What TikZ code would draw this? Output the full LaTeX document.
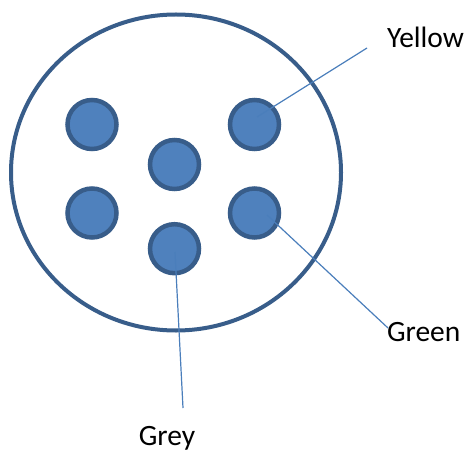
\documentclass[tikz,border=0pt]{standalone}
\usepackage{fontspec}
\setmainfont{Carlito}
\usepackage{xcolor}
\usepackage{tikz}
\usetikzlibrary{shapes.geometric}

\definecolor{dotfill}{HTML}{4F81BD}
\definecolor{dotline}{HTML}{385D8A}
\definecolor{leadline}{HTML}{4A7EBB}

\begin{document}
\begin{tikzpicture}[
        x=1pt, y=-1pt,
        every node/.style={inner sep=0pt, outer sep=0pt},
        rim/.style  ={ellipse, draw=dotline, line width=4pt,
                      minimum width=330pt, minimum height=316pt},
        dot/.style  ={circle, draw=dotline, fill=dotfill, line width=4.5pt,
                      minimum size=49pt},
        lead/.style ={draw=leadline, line width=1.2pt},
        tag/.style  ={font=\fontsize{29.5}{32}\selectfont, text=black},
    ]
        \useasboundingbox (0,0) rectangle (470,454);

        % ===================== Casing =====================
        \node[rim] (rim) at (176,172.5) {};

        % ===================== Six cores =====================
        \node[dot] (c1) at ( 92.0,124.5) {};
        \node[dot] (c2) at (254.5,124.5) {};
        \node[dot] (c3) at (174.5,164.5) {};
        \node[dot] (c4) at ( 92.0,213.0) {};
        \node[dot] (c5) at (254.5,213.0) {};
        \node[dot] (c6) at (174.5,248.7) {};

        % ===================== Labels =====================
        \node[tag, anchor=west] (yl) at (387,37)  {Yellow};
        \node[tag, anchor=west] (gn) at (387,332) {Green};
        \node[tag]              (gy) at (167,438) {Grey};

        % free ends of the leaders
        \coordinate (ye) at (367,48);
        \coordinate (ge) at (388,328);
        \coordinate (re) at (183,408);

        % ===================== Leaders =====================
        \draw[lead] ([shift={(2.5,-7.5)}]c2.center) -- (ye);
        \draw[lead] ([shift={(12.5,2)}]c5.center)   -- (ge);
        \draw[lead] ([shift={(0.5,3.3)}]c6.center)  -- (re);
    \end{tikzpicture}
\end{document}
